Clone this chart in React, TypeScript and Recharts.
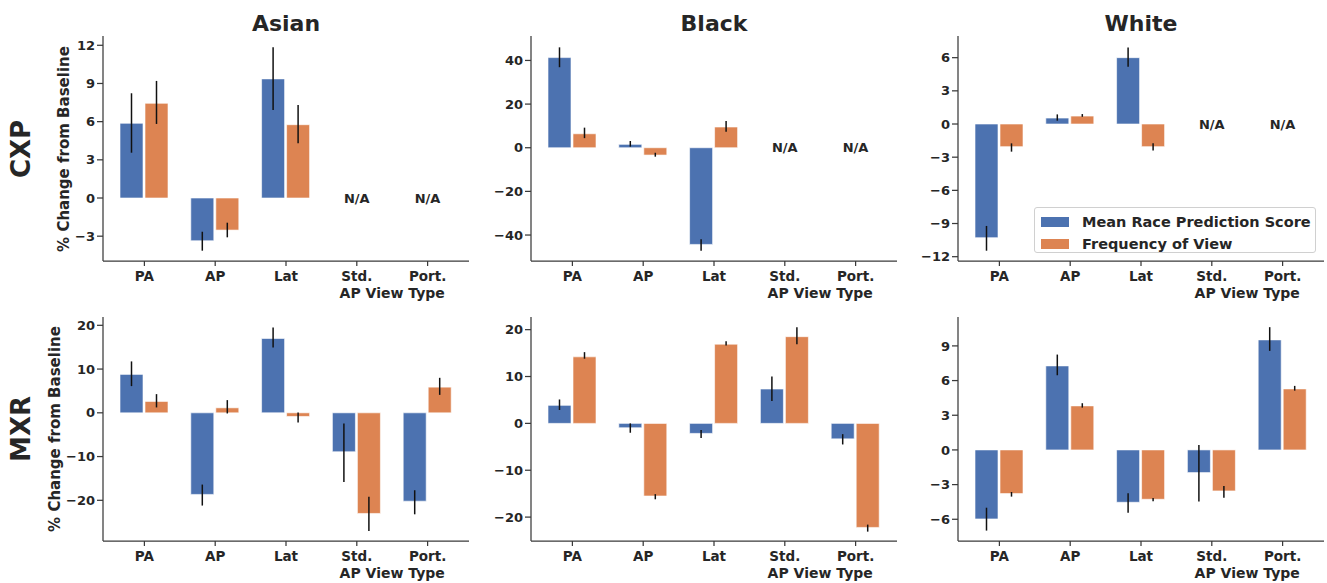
import { BarChart, Bar, XAxis, YAxis, ErrorBar, ReferenceDot } from "recharts";

const viewTypes = ["PA", "AP", "Lat", "Std.", "Port."];
const races = ["Asian", "Black", "White"];
const datasets = ["CXP", "MXR"];
const seriesNames = ["Mean Race Prediction Score", "Frequency of View"];

// CXP values (% change) and CI bounds [low, high]
const cxpAsianScore = [5.87, -3.36, 9.36, null, null];
const cxpAsianScoreCI = [[3.56, 8.23], [-4.14, -2.65], [6.92, 11.85], null, null];
const cxpAsianFreq = [7.44, -2.52, 5.76, null, null];
const cxpAsianFreqCI = [[5.82, 9.2], [-3.09, -1.94], [4.3, 7.31], null, null];

const cxpBlackScore = [41.3, 1.55, -44.3, null, null];
const cxpBlackScoreCI = [[36.9, 46.0], [0.5, 3.1], [-47.2, -41.9], null, null];
const cxpBlackFreq = [6.4, -3.35, 9.5, null, null];
const cxpBlackFreqCI = [[4.4, 9.2], [-4.1, -2.3], [7.3, 12.2], null, null];

const cxpWhiteScore = [-10.28, 0.54, 6.0, null, null];
const cxpWhiteScoreCI = [[-11.46, -9.22], [0.3, 0.87], [5.18, 6.93], null, null];
const cxpWhiteFreq = [-2.05, 0.72, -2.05, null, null];
const cxpWhiteFreqCI = [[-2.5, -1.75], [0.65, 0.9], [-2.4, -1.75], null, null];

// MXR
const mxrAsianScore = [8.78, -18.65, 17.0, -8.9, -20.2];
const mxrAsianScoreCI = [[6.1, 11.75], [-21.2, -16.4], [14.95, 19.5], [-15.8, -2.43], [-23.2, -17.7]];
const mxrAsianFreq = [2.6, 1.14, -0.83, -23.0, 5.87];
const mxrAsianFreqCI = [[1.23, 4.27], [-0.15, 2.9], [-2.2, 0.1], [-27.0, -19.2], [4.1, 8.0]];

const mxrBlackScore = [3.85, -0.93, -2.14, 7.33, -3.3];
const mxrBlackScoreCI = [[2.85, 5.1], [-2.0, 0.0], [-3.1, -1.4], [4.8, 10.0], [-4.5, -2.3]];
const mxrBlackFreq = [14.2, -15.5, 16.9, 18.5, -22.2];
const mxrBlackFreqCI = [[13.8, 15.2], [-16.2, -15.1], [16.6, 17.5], [16.9, 20.5], [-23.1, -21.6]];

const mxrWhiteScore = [-5.97, 7.27, -4.53, -1.96, 9.52];
const mxrWhiteScoreCI = [[-6.98, -5.0], [6.46, 8.25], [-5.43, -3.75], [-4.47, 0.43], [8.57, 10.62]];
const mxrWhiteFreq = [-3.78, 3.81, -4.27, -3.55, 5.28];
const mxrWhiteFreqCI = [[-4.04, -3.64], [3.66, 4.04], [-4.44, -4.16], [-4.13, -3.12], [5.13, 5.54]];

// y ticks per panel
const cxpAsianTicks = [-3, 0, 3, 6, 9, 12];
const cxpBlackTicks = [-40, -20, 0, 20, 40];
const cxpWhiteTicks = [-12, -9, -6, -3, 0, 3, 6];
const mxrAsianTicks = [-20, -10, 0, 10, 20];
const mxrBlackTicks = [-20, -10, 0, 10, 20];
const mxrWhiteTicks = [-6, -3, 0, 3, 6, 9];

const BLUE = "#4C72B0";
const ORANGE = "#DD8452";
const TEXT = "#262626";
const AXIS = "#3a3a3a";
const FONT = "'DejaVu Sans', sans-serif";

type CI = number[] | null;

function buildRows(score: (number | null)[], scoreCI: CI[], freq: (number | null)[], freqCI: CI[]) {
  const err = (v: number | null, ci: CI) => (v == null || !ci ? null : [v - ci[0], ci[1] - v]);
  return viewTypes.map((view, i) => ({
    view,
    score: score[i],
    scoreErr: err(score[i], scoreCI[i]),
    freq: freq[i],
    freqErr: err(freq[i], freqCI[i]),
  }));
}

const panels = [
  { row: 0, col: 0, rows: buildRows(cxpAsianScore, cxpAsianScoreCI, cxpAsianFreq, cxpAsianFreqCI), ticks: cxpAsianTicks, domain: [-4.95, 12.73] },
  { row: 0, col: 1, rows: buildRows(cxpBlackScore, cxpBlackScoreCI, cxpBlackFreq, cxpBlackFreqCI), ticks: cxpBlackTicks, domain: [-51.9, 51.2] },
  { row: 0, col: 2, rows: buildRows(cxpWhiteScore, cxpWhiteScoreCI, cxpWhiteFreq, cxpWhiteFreqCI), ticks: cxpWhiteTicks, domain: [-12.39, 7.96] },
  { row: 1, col: 0, rows: buildRows(mxrAsianScore, mxrAsianScoreCI, mxrAsianFreq, mxrAsianFreqCI), ticks: mxrAsianTicks, domain: [-29.3, 21.9] },
  { row: 1, col: 1, rows: buildRows(mxrBlackScore, mxrBlackScoreCI, mxrBlackFreq, mxrBlackFreqCI), ticks: mxrBlackTicks, domain: [-25.1, 22.7] },
  { row: 1, col: 2, rows: buildRows(mxrWhiteScore, mxrWhiteScoreCI, mxrWhiteFreq, mxrWhiteFreqCI), ticks: mxrWhiteTicks, domain: [-7.88, 11.5] },
];

// layout
const axisX = [103, 531, 958];
const plotTop = [36, 317];
const plotH = [225, 224];
const plotW = 366;
const yAxisW = 50;
const pad = 6;
const band = (plotW - 2 * pad) / viewTypes.length;

const fmt = (v: number) => (v < 0 ? "\u2212" + Math.abs(v) : String(v));

const ViewTick = (props: any) => {
  const { x, y, payload } = props;
  return (
    <g>
      <text x={x} y={y} dy="0.71em" textAnchor="middle" fill={TEXT} fontSize={13.5} fontWeight={700} fontFamily={FONT}>
        {payload.value}
      </text>
      {payload.value === "Std." && (
        <text x={x + band / 2} y={y + 17} dy="0.71em" textAnchor="middle" fill={TEXT} fontSize={14} fontWeight={700} fontFamily={FONT}>
          AP View Type
        </text>
      )}
    </g>
  );
};

const NaMark = (p: any) => (
  <text x={p.cx} y={p.cy} dy="0.36em" textAnchor="middle" fill={TEXT} fontSize={13} fontWeight={700} fontFamily={FONT}>
    N/A
  </text>
);

function Panel({ p }: { p: (typeof panels)[number] }) {
  const top = plotTop[p.row] - 10;
  const h = 10 + plotH[p.row] + 46;
  return (
    <div style={{ position: "absolute", left: axisX[p.col] - yAxisW, top }}>
      <BarChart
        width={yAxisW + plotW + 4}
        height={h}
        data={p.rows}
        margin={{ top: 10, right: 4, left: 0, bottom: 0 }}
        barSize={23}
        barGap={2}
      >
        <XAxis
          dataKey="view"
          padding={{ left: pad, right: pad }}
          height={46}
          tickSize={5}
          tickMargin={5}
          tick={<ViewTick />}
          interval={0}
          axisLine={{ stroke: AXIS, strokeWidth: 1.25 }}
          tickLine={{ stroke: AXIS, strokeWidth: 1.25 }}
        />
        <YAxis
          width={yAxisW}
          domain={p.domain}
          allowDataOverflow
          ticks={p.ticks}
          tickFormatter={fmt}
          tickSize={6}
          tickMargin={2}
          interval={0}
          tick={{ fill: TEXT, fontSize: 13, fontWeight: 700, fontFamily: FONT }}
          axisLine={{ stroke: AXIS, strokeWidth: 1.25 }}
          tickLine={{ stroke: AXIS, strokeWidth: 1.25 }}
        />
        <Bar dataKey="score" name={seriesNames[0]} fill={BLUE} stroke="#fff" strokeOpacity={0.6} strokeWidth={1} isAnimationActive={false}>
          <ErrorBar dataKey="scoreErr" width={0} stroke="#111" strokeWidth={1.5} />
        </Bar>
        <Bar dataKey="freq" name={seriesNames[1]} fill={ORANGE} stroke="#fff" strokeOpacity={0.6} strokeWidth={1} isAnimationActive={false}>
          <ErrorBar dataKey="freqErr" width={0} stroke="#111" strokeWidth={1.5} />
        </Bar>
        {p.rows
          .filter((r) => r.score == null && r.freq == null)
          .map((r) => (
            <ReferenceDot key={r.view} x={r.view} y={0} r={0} shape={<NaMark />} />
          ))}
      </BarChart>
    </div>
  );
}

export default function App() {
  return (
    <div style={{ position: "absolute", left: 0, top: 0, width: 1327, height: 583, background: "#fff", fontFamily: FONT }}>
      {panels.map((p) => (
        <Panel key={`${p.row}-${p.col}`} p={p} />
      ))}
      <svg width={1327} height={583} style={{ position: "absolute", left: 0, top: 0, pointerEvents: "none" }}>
        {races.map((r, i) => (
          <text key={r} x={axisX[i] + plotW / 2} y={31} textAnchor="middle" fill={TEXT} fontSize={22} fontWeight={700} fontFamily={FONT}>
            {r}
          </text>
        ))}
        {datasets.map((d, i) => (
          <text
            key={d}
            transform={`translate(21, ${i === 0 ? 149 : 429}) rotate(-90)`}
            textAnchor="middle"
            dy="0.36em"
            fill={TEXT}
            fontSize={26}
            fontWeight={700}
            fontFamily={FONT}
          >
            {d}
          </text>
        ))}
        {[0, 1].map((i) => (
          <text
            key={i}
            transform={`translate(${i === 0 ? 63.5 : 55}, ${i === 0 ? 149 : 429}) rotate(-90)`}
            textAnchor="middle"
            dy="0.36em"
            fill={TEXT}
            fontSize={15}
            fontWeight={700}
            fontFamily={FONT}
          >
            % Change from Baseline
          </text>
        ))}
      </svg>
      <div
        style={{
          position: "absolute",
          left: 1034,
          top: 207,
          width: 282,
          height: 46,
          boxSizing: "border-box",
          border: "1px solid #d0d0d0",
          borderRadius: 3,
          background: "rgba(255,255,255,0.85)",
        }}
      >
        {seriesNames.map((n, i) => (
          <div key={n} style={{ position: "absolute", left: 6, top: 5 + i * 22, height: 18, display: "flex", alignItems: "center" }}>
            <div style={{ width: 28, height: 10, background: i === 0 ? BLUE : ORANGE }} />
            <span style={{ marginLeft: 13, fontSize: 14.5, fontWeight: 700, color: TEXT, whiteSpace: "nowrap" }}>{n}</span>
          </div>
        ))}
      </div>
    </div>
  );
}
